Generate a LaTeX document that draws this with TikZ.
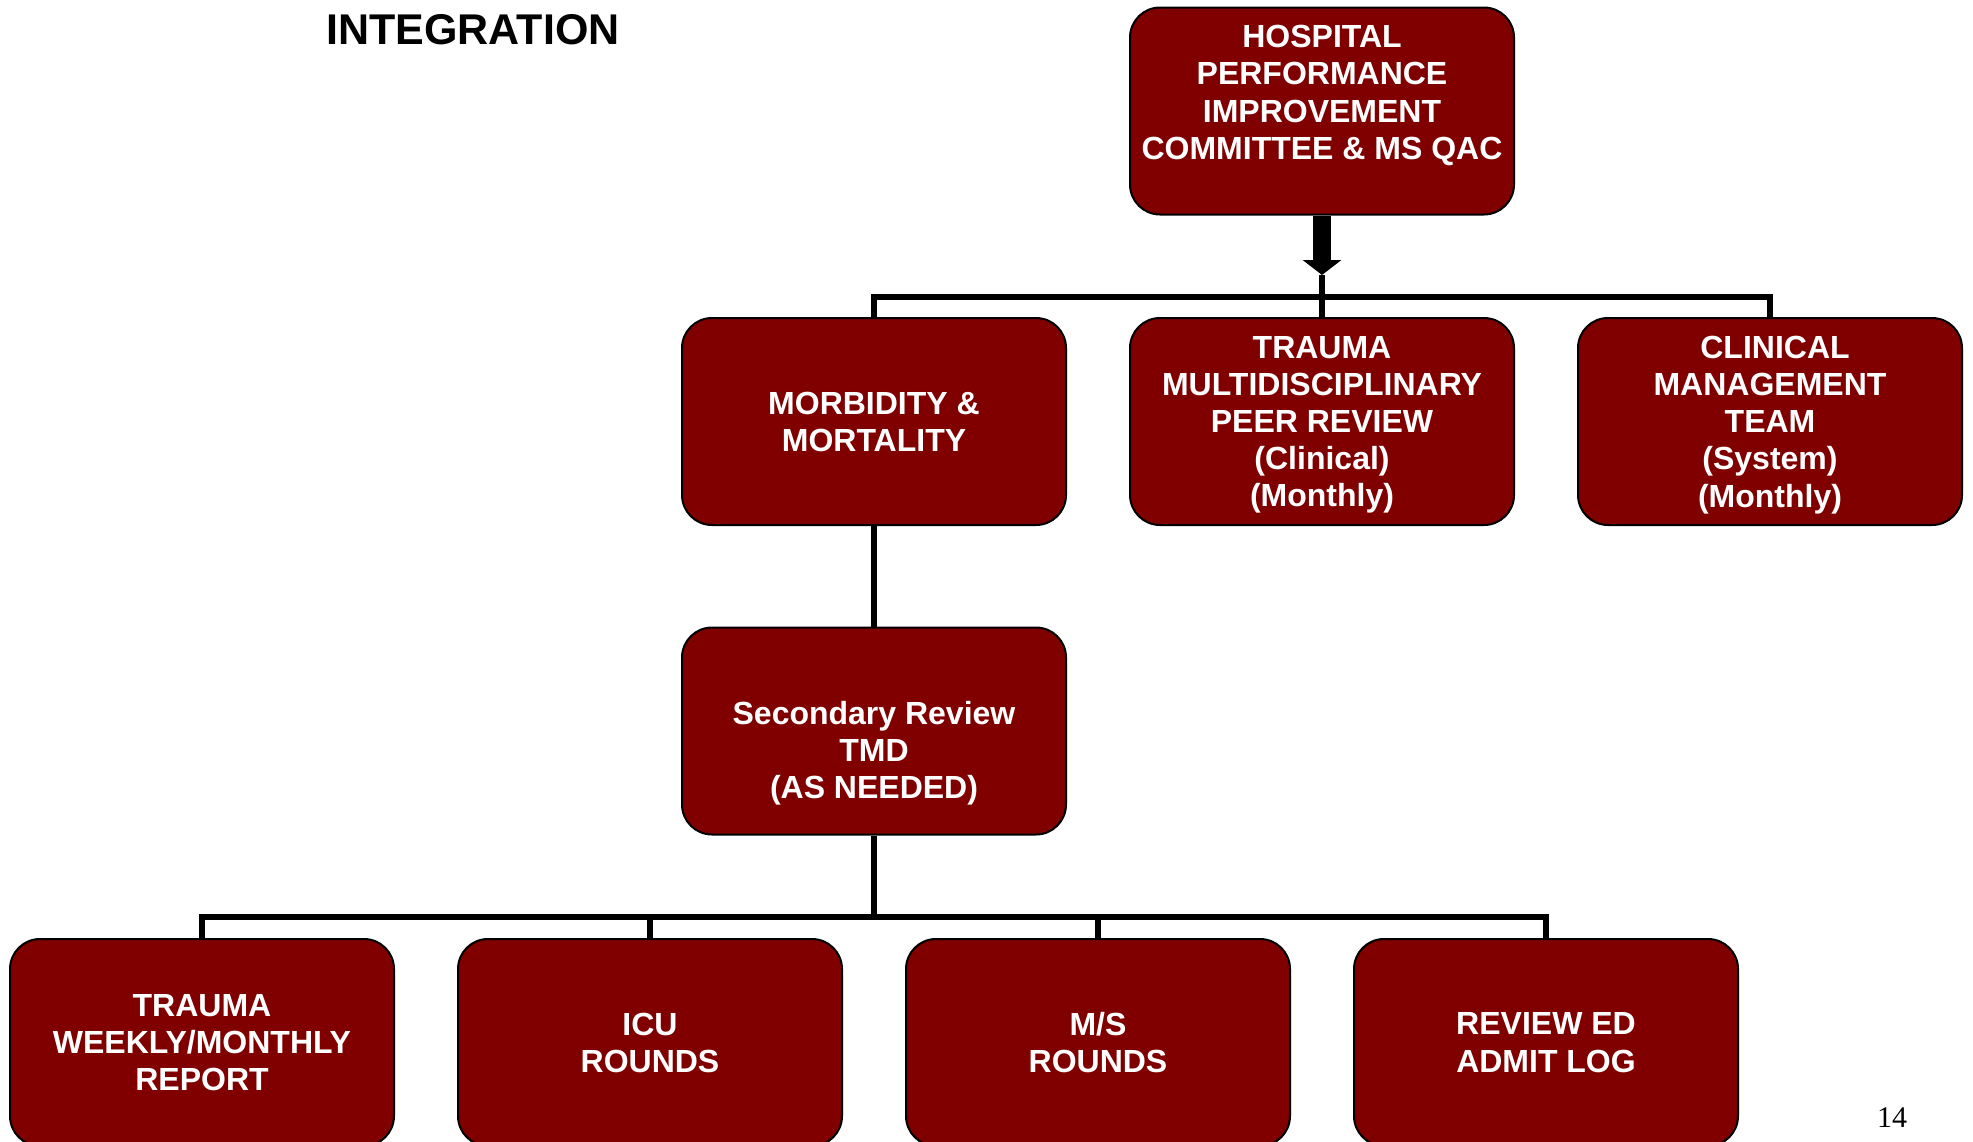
\documentclass[tikz,border=0pt]{standalone}
\usepackage{fontspec}
\setmainfont{Liberation Sans}
\newfontfamily\serifnum{Liberation Serif}
\usetikzlibrary{arrows.meta}
\definecolor{boxred}{RGB}{128,0,0}
\tikzset{
  orgbox/.style={draw=black, line width=1pt, fill=boxred, rounded corners=15pt,
    minimum width=192pt, minimum height=103.5pt, inner sep=0pt, align=center,
    text depth=0pt,
    text=white, font=\fontsize{16}{18.6}\selectfont\bfseries},
  conn/.style={draw=black, line width=2.75pt},
}
\begin{document}
\begin{tikzpicture}[x=0.5pt,y=-0.5pt]
\useasboundingbox (0,0) rectangle (1973,1141);
\node[font=\fontsize{21.5}{25}\selectfont\bfseries] (title) at (473,30) {INTEGRATION};
\node[font=\serifnum\fontsize{15}{18}\selectfont] (pagenum) at (1892,1118) {14};

\node[orgbox] (top) at (1322,111) {HOSPITAL\\PERFORMANCE\\IMPROVEMENT\\COMMITTEE \& MS QAC\\~};
\node[orgbox] (mm) at (874,421.5) {MORBIDITY \&\\MORTALITY};
\node[orgbox] (tmp) at (1322,421.5) {TRAUMA\\MULTIDISCIPLINARY\\PEER REVIEW\\(Clinical)\\(Monthly)};
\node[orgbox] (cm) at (1770,421.5) {\hspace*{5pt}CLINICAL\\MANAGEMENT\\TEAM\\(System)\\(Monthly)};
\node[orgbox] (sec) at (874,731) {\rule{0pt}{12pt}\\Secondary Review\\TMD\\(AS NEEDED)};
\node[orgbox] (b1) at (202,1042.5) {TRAUMA\\WEEKLY/MONTHLY\\REPORT};
\node[orgbox] (b2) at (650,1042.5) {ICU\\ROUNDS};
\node[orgbox] (b3) at (1098,1042.5) {M/S\\ROUNDS};
\node[orgbox] (b4) at (1546,1042.5) {REVIEW ED\\ADMIT LOG};

\coordinate (tip) at (1322,275);
\coordinate (bar1) at (1322,297);
\coordinate (bar2) at (874,917);

\draw[line width=9pt, -{Triangle[width=19pt,length=7.5pt]}] (top.south) -- (tip);
\draw[conn] (tip) -- (tmp.north);
\draw[conn] (mm.north) |- (bar1) -| (cm.north);
\draw[conn] (mm.south) -- (sec.north);
\draw[conn] (sec.south) -- (bar2);
\draw[conn] (b1.north) |- (bar2) -| (b4.north);
\draw[conn] (b2.north) -- (b2.north |- bar2);
\draw[conn] (b3.north) -- (b3.north |- bar2);
\end{tikzpicture}
\end{document}
